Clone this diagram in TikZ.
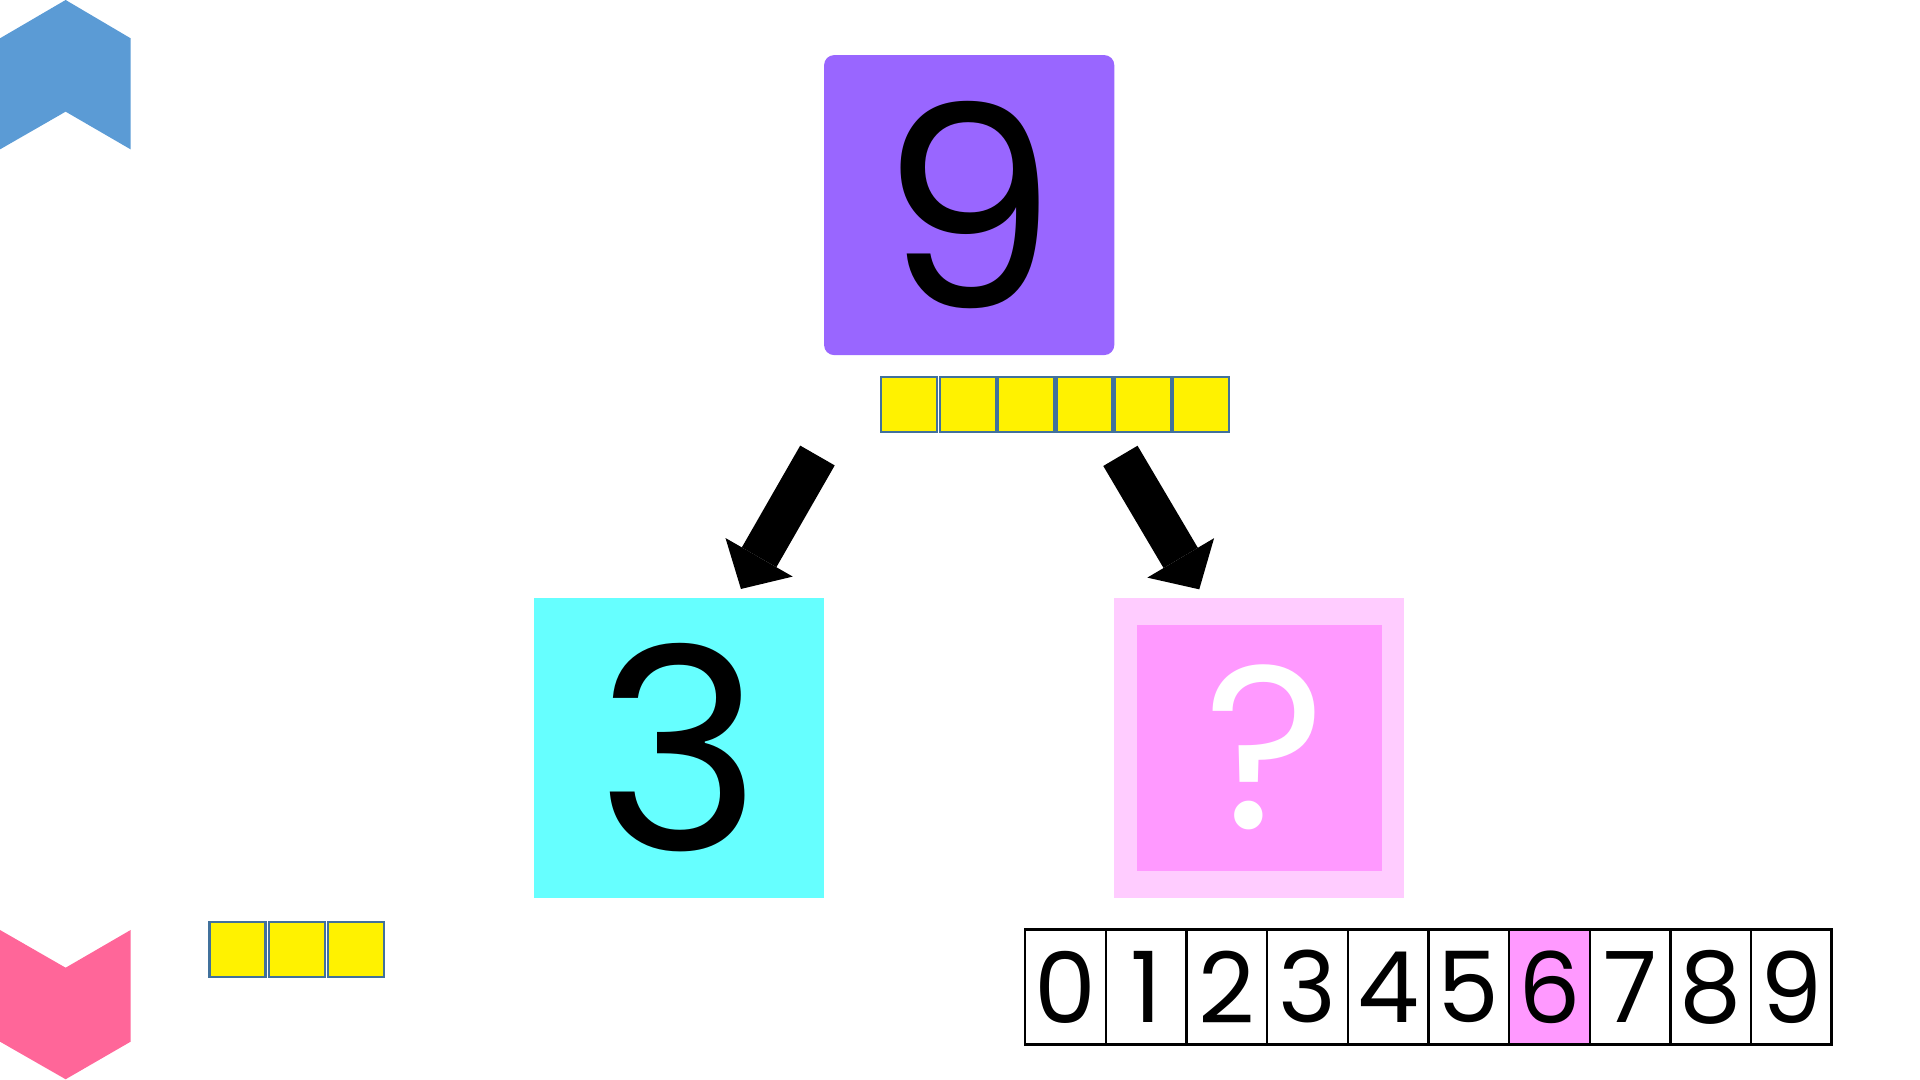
\documentclass[tikz,border=0pt]{standalone}
\usepackage{fontspec}
\setmainfont{Poppins}
\usetikzlibrary{arrows.meta}

\definecolor{chevblue}{HTML}{5B9BD5}
\definecolor{chevpink}{HTML}{FF6699}
\definecolor{cardpurple}{HTML}{9966FF}
\definecolor{cardcyan}{HTML}{66FFFF}
\definecolor{pinklight}{HTML}{FFCCFF}
\definecolor{pinkdeep}{HTML}{FF99FF}
\definecolor{cubeedge}{HTML}{41719C}

\tikzset{
	card/.style={minimum width=29.02mm, minimum height=30mm, inner sep=0pt, font=\fontsize{80}{80}\selectfont},
	cube/.style={draw=cubeedge, line width=0.6pt, fill=yellow, minimum width=5.6mm, minimum height=5.55mm, inner sep=0pt},
	cell/.style={draw, line width=0.7pt, minimum width=8.065mm, minimum height=11.47mm, inner sep=0pt, font=\fontsize{28}{28}\selectfont},
	blockarrow/.style={line width=3.98mm, -{Triangle[length=3.65mm, width=7.75mm, line width=0pt]}},
}

\begin{document}
\begin{tikzpicture}[x=0.12245mm, y=-0.12245mm]
	\useasboundingbox (0,0) rectangle (1568,882);

	% chevrons
	\fill[chevblue] (0,31.3) -- (53.6,0) -- (106.7,31.3) -- (106.7,122) -- (53.6,91.2) -- (0,122) -- cycle;
	\fill[chevpink] (0,759.5) -- (53.6,790.3) -- (106.7,759.5) -- (106.7,850.7) -- (53.6,881.4) -- (0,850.7) -- cycle;

	% cards
	\node[card, fill=cardpurple, rounded corners=1mm] (nine) at (791.5,167.5) {9};
	\node[card, fill=cardcyan] (three) at (554.5,610.5) {3};
	\node[card, fill=pinklight] (ask) at (1028.5,610.5) {};
	\node[fill=pinkdeep, minimum width=24.5mm, minimum height=24.6mm, inner sep=0pt, text=white, font=\fontsize{66}{66}\selectfont] (askin) at (ask.center) {\hspace*{1.2mm}?};

	% cubes
	\foreach \i in {0,...,5}
		\node[cube] (top\i) at ({742.6+47.7*\i},330.5) {};
	\foreach \i in {0,...,2}
		\node[cube] (low\i) at ({194+48.2*\i},775.5) {};

	% arrows
	\coordinate (la) at (667.6,372);
	\coordinate (lb) at (605.1,481);
	\coordinate (ra) at (915,372.3);
	\coordinate (rb) at (979.4,481.3);
	\draw[blockarrow] (la) -- (lb);
	\draw[blockarrow] (ra) -- (rb);

	% number strip
	\foreach \d/\c in {0/white,1/white,2/white,3/white,4/white,5/white,6/pinkdeep,7/white,8/white,9/white}
		\node[cell, fill=\c] (n\d) at ({870.2+65.86*\d},806) {\d};
\end{tikzpicture}
\end{document}
